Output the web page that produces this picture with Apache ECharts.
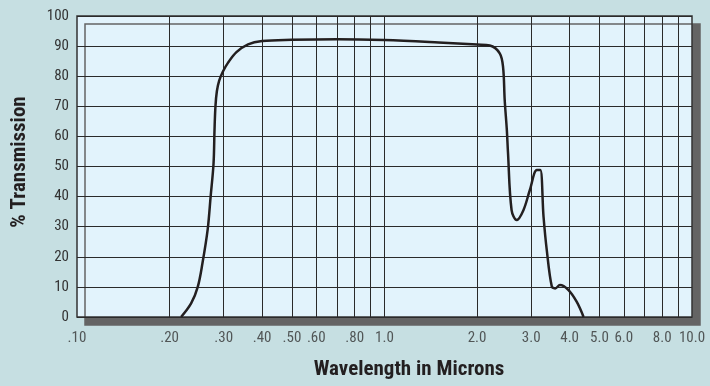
<!DOCTYPE html>
<html>
<head>
<meta charset="utf-8">
<script src="https://cdn.jsdelivr.net/npm/echarts@6/dist/echarts.min.js"></script>
<style>
html,body{margin:0;padding:0;background:#c6dfe2;}
#chart{width:710px;height:386px;}
</style>
</head>
<body>
<div id="chart"></div>
<script>
// Transmission curve: [wavelength (microns), % transmission]
const wavelength = [0.218,0.235,0.247,0.256,0.266,0.272,0.278,0.280,0.282,0.285,0.290,0.298,0.31,0.33,0.36,0.40,0.50,0.70,1.0,1.5,2.0,2.2,2.37,2.43,2.46,2.50,2.52,2.59,2.69,2.83,2.97,3.13,3.21,3.29,3.37,3.50,3.59,3.72,3.96,4.22,4.44];
const transmission = [0,4.5,10,18,29,40,51,62,70,75,78.5,81.5,84.5,88,90.6,91.7,92.1,92.3,92,91.2,90.5,90.2,87.6,83,72,62,55,35.5,32.2,35.5,42.2,48.8,48.8,33.3,22.3,10.1,9.5,10.6,9,5,0];

// Axis ticks
const xTickValues = [0.1,0.2,0.3,0.4,0.5,0.6,0.8,1,2,3,4,5,6,8,10];
const xTickLabels = ['.10','.20','.30','.40','.50','.60','.80','1.0','2.0','3.0','4.0','5.0','6.0','8.0','10.0'];
const xGridValues = [0.2,0.3,0.4,0.5,0.6,0.7,0.8,0.9,1,2,3,4,5,6,7,8,9];

const FONT = "'Liberation Sans Narrow','Arial Narrow','Roboto Condensed',sans-serif";

const chart = echarts.init(document.getElementById('chart'));
chart.setOption({
  backgroundColor: '#c6dfe2',
  animation: false,
  grid: {
    left: 77, right: 18, top: 16, bottom: 69,
    show: true,
    backgroundColor: '#e2f3fc',
    borderColor: '#333',
    borderWidth: 1.5,
    shadowColor: '#646464',
    shadowBlur: 0,
    shadowOffsetX: 8,
    shadowOffsetY: 8
  },
  xAxis: {
    type: 'log',
    logBase: 10,
    min: 0.1,
    max: 10,
    axisLine: {show: false},
    axisTick: {show: false},
    axisLabel: {show: false},
    splitLine: {show: false},
    name: 'Wavelength in Microns',
    nameLocation: 'middle',
    nameGap: 42,
    nameTextStyle: {fontFamily: FONT, fontWeight: 'bold', fontSize: 21, color: '#231f20', padding: [0, 0, 0, 49]}
  },
  yAxis: {
    type: 'value',
    min: 0, max: 100, interval: 10,
    axisLine: {show: false},
    axisTick: {show: false},
    axisLabel: {fontFamily: FONT, fontSize: 15, color: '#333', margin: 8},
    splitLine: {show: true, lineStyle: {color: '#2a2a2a', width: 1}},
    name: '% Transmission',
    nameLocation: 'middle',
    nameGap: 47,
    nameTextStyle: {fontFamily: FONT, fontWeight: 'bold', fontSize: 21, color: '#231f20', padding: [0, 0, 0, 9]}
  },
  series: [
    {
      type: 'line',
      data: wavelength.map((w, i) => [w, transmission[i]]),
      smooth: 0.35,
      symbol: 'none',
      lineStyle: {color: '#231f20', width: 2.5},
      z: 5,
      markLine: {
        silent: true,
        symbol: 'none',
        label: {show: false},
        lineStyle: {color: '#2a2a2a', width: 1, type: 'solid'},
        data: xGridValues.map(v => ({xAxis: v}))
      }
    },
    {
      type: 'scatter',
      data: xTickValues.map(v => [v, 0]),
      symbolSize: 0,
      silent: true,
      label: {
        show: true,
        position: 'bottom',
        distance: 14,
        fontFamily: FONT,
        fontSize: 15,
        color: '#333',
        formatter: p => xTickLabels[p.dataIndex]
      }
    }
  ]
});
</script>
</body>
</html>
